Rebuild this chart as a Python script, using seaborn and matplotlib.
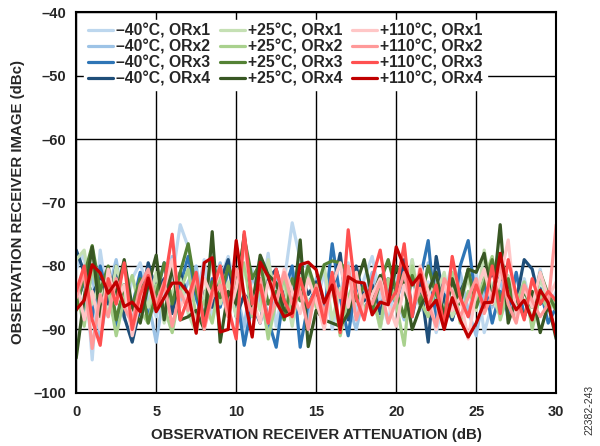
import numpy as np
import pandas as pd
import matplotlib
matplotlib.use("Agg")
import matplotlib.pyplot as plt
import seaborn as sns
from matplotlib.lines import Line2D

# Observation receiver attenuation (dB)
atten = [0.0, 0.5, 1.0, 1.5, 2.0, 2.5, 3.0, 3.5, 4.0, 4.5,
         5.0, 5.5, 6.0, 6.5, 7.0, 7.5, 8.0, 8.5, 9.0, 9.5,
         10.0, 10.5, 11.0, 11.5, 12.0, 12.5, 13.0, 13.5, 14.0, 14.5,
         15.0, 15.5, 16.0, 16.5, 17.0, 17.5, 18.0, 18.5, 19.0, 19.5,
         20.0, 20.5, 21.0, 21.5, 22.0, 22.5, 23.0, 23.5, 24.0, 24.5,
         25.0, 25.5, 26.0, 26.5, 27.0, 27.5, 28.0, 28.5, 29.0, 29.5,
         30.0]

m40_orx1 = [-80.5, -78.0, -94.8, -77.5, -86.0, -80.0, -88.5, -82.0, -79.5, -84.0,
            -88.0, -83.5, -82.0, -73.5, -77.0, -85.5, -79.0, -88.5, -82.0, -78.5,
            -84.0, -91.0, -80.5, -86.0, -78.0, -89.5, -82.5, -73.2, -79.0, -80.5,
            -86.0, -81.0, -90.0, -84.0, -79.5, -87.5, -82.0, -78.5, -85.0, -89.0,
            -81.5, -84.5, -79.0, -87.0, -82.5, -90.5, -85.0, -79.5, -83.0, -88.0,
            -81.0, -90.5, -86.0, -79.0, -84.5, -88.0, -82.0, -86.5, -80.5, -87.0,
            -84.0]
m40_orx2 = [-83.0, -87.5, -81.0, -91.5, -84.0, -79.0, -86.5, -89.0, -82.0, -85.5,
            -92.0, -84.0, -78.5, -86.0, -82.5, -80.0, -88.0, -83.5, -79.5, -87.0,
            -84.0, -89.5, -81.5, -85.0, -90.5, -82.0, -86.0, -80.5, -84.5, -88.5,
            -82.0, -87.0, -83.5, -79.5, -86.0, -90.0, -84.5, -81.0, -87.5, -83.0,
            -85.0, -88.5, -82.0, -86.5, -79.5, -84.0, -89.0, -85.5, -81.0, -87.0,
            -91.0, -84.0, -86.5, -82.0, -88.5, -85.0, -83.0, -89.5, -84.5, -87.0,
            -85.5]
m40_orx3 = [-86.0, -82.5, -88.0, -80.0, -85.0, -89.5, -83.0, -86.5, -81.0, -88.0,
            -84.5, -79.5, -87.0, -83.0, -78.5, -85.0, -89.0, -82.0, -86.5, -80.5,
            -84.0, -92.5, -86.0, -82.0, -88.5, -92.8, -84.0, -80.0, -92.8, -86.0,
            -83.5, -88.0, -76.5, -85.0, -91.0, -82.5, -87.0, -84.0, -89.5, -83.0,
            -86.0, -80.5, -88.0, -82.0, -76.0, -89.0, -84.5, -88.5, -80.0, -76.0,
            -86.0, -82.5, -89.0, -84.0, -87.5, -81.0, -88.0, -85.0, -83.5, -89.0,
            -86.5]
m40_orx4 = [-77.5, -81.0, -84.5, -82.0, -86.0, -80.0, -88.0, -92.0, -86.5, -79.5,
            -84.0, -82.0, -87.5, -81.0, -85.0, -88.0, -84.0, -86.5, -82.5, -79.0,
            -88.0, -84.5, -86.0, -89.0, -82.0, -80.5, -85.0, -87.0, -81.0, -84.5,
            -82.5, -86.0, -84.0, -78.0, -88.5, -80.0, -85.5, -83.0, -87.5, -82.0,
            -85.0, -79.0, -87.0, -82.5, -92.0, -78.5, -85.5, -88.5, -84.0, -81.5,
            -86.0, -82.0, -81.5, -81.8, -83.0, -85.5, -79.0, -80.5, -86.0, -84.5,
            -87.0]

p25_orx1 = [-79.0, -77.5, -86.0, -82.5, -88.0, -80.0, -84.5, -90.0, -83.0, -86.5,
            -81.0, -89.0, -84.0, -82.0, -87.5, -90.5, -85.0, -79.5, -86.0, -82.5,
            -88.0, -80.5, -84.0, -87.0, -79.0, -85.5, -83.0, -89.5, -81.5, -86.0,
            -84.0, -80.0, -88.5, -83.5, -86.0, -81.0, -87.5, -84.0, -90.0, -82.5,
            -85.0, -88.0, -79.0, -86.5, -83.0, -84.5, -81.0, -88.0, -85.5, -82.0,
            -87.0, -77.5, -84.5, -88.0, -81.5, -86.0, -83.0, -89.0, -82.0, -85.5,
            -87.0]
p25_orx2 = [-84.0, -89.5, -80.0, -86.0, -83.5, -91.0, -85.0, -81.5, -87.0, -89.0,
            -83.0, -86.5, -90.5, -84.0, -80.5, -88.0, -85.5, -89.0, -82.0, -86.0,
            -84.5, -79.5, -88.0, -83.0, -91.5, -85.5, -82.0, -87.5, -84.0, -80.0,
            -86.5, -89.0, -83.0, -91.0, -85.0, -81.5, -87.0, -84.5, -89.5, -82.0,
            -86.0, -92.5, -80.0, -85.5, -88.0, -83.0, -87.5, -81.0, -89.0, -84.0,
            -86.5, -82.0, -78.5, -88.5, -84.0, -86.0, -82.5, -90.0, -84.5, -87.0,
            -85.0]
p25_orx3 = [-87.0, -81.5, -76.8, -84.0, -80.0, -88.5, -83.0, -86.5, -82.0, -89.0,
            -84.5, -79.5, -86.0, -81.0, -76.5, -84.0, -88.0, -82.5, -85.0, -80.0,
            -83.5, -75.5, -82.0, -79.5, -86.0, -84.0, -88.5, -82.0, -85.5, -80.0,
            -84.0, -79.8, -79.2, -79.5, -81.0, -85.5, -83.0, -87.0, -82.5, -79.0,
            -84.0, -88.0, -81.5, -86.0, -80.0, -84.5, -87.5, -82.5, -85.0, -80.5,
            -86.5, -83.0, -79.0, -85.5, -82.0, -88.0, -84.0, -86.5, -81.0, -84.5,
            -87.0]
p25_orx4 = [-94.5, -85.0, -77.0, -88.0, -81.0, -84.5, -79.0, -86.5, -89.0, -83.0,
            -78.3, -88.5, -79.8, -88.5, -88.0, -87.0, -90.0, -74.6, -92.0, -84.0,
            -86.0, -75.0, -86.3, -78.3, -81.4, -82.7, -87.0, -87.5, -75.9, -92.7,
            -87.0, -88.5, -89.0, -89.5, -87.5, -83.0, -79.0, -85.0, -81.5, -86.0,
            -80.0, -83.0, -90.0, -86.5, -84.0, -81.0, -88.5, -82.0, -86.0, -80.5,
            -81.0, -78.0, -86.0, -73.5, -89.0, -85.0, -88.0, -84.0, -90.5, -86.0,
            -91.5]

p110_orx1 = [-82.0, -88.5, -84.0, -90.0, -80.5, -86.0, -83.0, -91.0, -85.5, -81.0,
             -87.0, -83.5, -79.0, -86.5, -84.0, -89.5, -82.0, -85.0, -80.0, -88.0,
             -83.5, -77.0, -85.0, -89.0, -82.5, -86.0, -80.5, -84.0, -87.5, -82.0,
             -85.5, -90.0, -83.0, -79.5, -86.5, -81.0, -88.0, -84.5, -82.0, -86.0,
             -89.5, -83.0, -86.5, -80.0, -84.0, -90.0, -82.5, -87.0, -85.0, -91.5,
             -84.0, -80.5, -86.0, -82.0, -75.9, -88.0, -83.5, -86.5, -81.0, -85.0,
             -82.5]
p110_orx2 = [-85.0, -81.0, -93.0, -84.5, -88.0, -82.0, -86.5, -89.0, -83.0, -80.5,
             -86.0, -82.5, -89.5, -84.0, -87.0, -81.5, -90.0, -85.0, -83.0, -88.0,
             -80.5, -84.5, -87.5, -82.0, -89.0, -85.5, -81.0, -86.0, -84.0, -90.0,
             -83.0, -87.5, -82.0, -85.0, -80.0, -88.5, -84.5, -86.0, -82.5, -89.0,
             -85.5, -81.0, -87.0, -83.5, -86.0, -89.5, -82.0, -84.0, -88.0, -85.0,
             -82.0, -87.5, -84.5, -80.0, -86.0, -89.0, -83.0, -85.5, -88.0, -86.0,
             -73.5]
p110_orx3 = [-84.0, -80.0, -88.5, -92.5, -82.0, -86.0, -79.5, -90.0, -84.5, -81.5,
             -87.0, -83.0, -75.0, -88.5, -85.0, -81.0, -89.5, -84.0, -80.0, -86.5,
             -91.5, -74.6, -86.0, -83.0, -89.0, -80.5, -85.5, -88.0, -82.0, -86.5,
             -83.5, -89.0, -81.0, -90.5, -74.3, -85.0, -88.5, -82.0, -77.5, -86.0,
             -84.0, -76.5, -88.0, -80.5, -86.5, -83.0, -89.5, -78.5, -85.0, -88.0,
             -83.0, -86.5, -80.0, -87.5, -79.0, -84.5, -88.5, -82.0, -86.0, -84.0,
             -85.5]
p110_orx4 = [-86.9, -85.4, -79.8, -81.1, -84.3, -82.5, -86.4, -85.7, -87.2, -81.9,
             -87.2, -85.0, -82.7, -82.7, -84.3, -90.6, -79.5, -78.7, -90.4, -90.0,
             -76.0, -84.8, -91.2, -79.4, -81.7, -85.7, -88.0, -87.4, -79.8, -79.4,
             -80.6, -85.8, -83.0, -90.0, -81.7, -82.5, -82.7, -87.7, -85.7, -86.1,
             -77.0, -80.1, -83.0, -81.4, -86.9, -85.4, -90.0, -85.0, -88.5, -91.2,
             -89.0, -85.8, -85.7, -78.0, -84.6, -86.9, -85.4, -88.5, -83.8, -85.8,
             -91.0]

series_labels = ["\u201340°C, ORx1", "\u201340°C, ORx2", "\u201340°C, ORx3", "\u201340°C, ORx4",
                 "+25°C, ORx1", "+25°C, ORx2", "+25°C, ORx3", "+25°C, ORx4",
                 "+110°C, ORx1", "+110°C, ORx2", "+110°C, ORx3", "+110°C, ORx4"]
series_values = [m40_orx1, m40_orx2, m40_orx3, m40_orx4,
                 p25_orx1, p25_orx2, p25_orx3, p25_orx4,
                 p110_orx1, p110_orx2, p110_orx3, p110_orx4]
colors = ["#bdd7ee", "#9dc3e6", "#2e75b6", "#1f4e79",
          "#c5e0b4", "#a9d18e", "#548235", "#385723",
          "#ffc7c7", "#ff9999", "#ff5050", "#c00000"]

y_ticks = [-100, -90, -80, -70, -60, -50, -40]
x_ticks = [0, 5, 10, 15, 20, 25, 30]

frames = []
for lab, vals in zip(series_labels, series_values):
    frames.append(pd.DataFrame({"atten": atten, "image": vals, "series": lab}))
df = pd.concat(frames, ignore_index=True)

sns.set_style("white")
plt.rcParams["font.family"] = ["Liberation Sans", "DejaVu Sans"]

fig = plt.figure(figsize=(6.0, 4.46), dpi=100)
ax = fig.add_axes([0.127, 0.119, 0.8, 0.854])

palette = dict(zip(series_labels, colors))
sns.lineplot(data=df, x="atten", y="image", hue="series", hue_order=series_labels,
             palette=palette, linewidth=2.3, ax=ax, legend=False, sort=False)

ax.set_xlim(0, 30)
ax.set_ylim(-100, -40)
ax.set_xticks(x_ticks)
ax.set_yticks(y_ticks)
ax.set_xticklabels([str(t) for t in x_ticks], fontsize=10.5, fontweight="bold")
ax.set_yticklabels([str(t).replace("-", "\u2013") for t in y_ticks], fontsize=10.5, fontweight="bold")
ax.tick_params(axis="x", length=0, pad=9)
ax.tick_params(axis="y", length=0, pad=7)
ax.grid(True, color="black", linewidth=1.0)
ax.set_axisbelow(True)
for s in ax.spines.values():
    s.set_color("black")
    s.set_linewidth(1.5)

ax.set_xlabel("OBSERVATION RECEIVER ATTENUATION (dB)", fontsize=10.8, fontweight="bold", labelpad=6)
ax.set_ylabel("OBSERVATION RECEIVER IMAGE (dBc)", fontsize=10.8, fontweight="bold", labelpad=6)

handles = [Line2D([0], [0], color=c, linewidth=2.3) for c in colors]
leg = ax.legend(handles, series_labels, ncol=3, loc="upper left",
                bbox_to_anchor=(0.0, 1.0), frameon=True, fancybox=False,
                framealpha=1.0, edgecolor="white", facecolor="white",
                prop={"weight": "bold", "size": 11.3},
                handlelength=1.6, handletextpad=0.2, columnspacing=0.6,
                labelspacing=0.05, borderpad=0.25, borderaxespad=0.5)
leg.set_zorder(5)

fig.text(0.982, 0.08, "22382-243", rotation=90, fontsize=7.5, color="#333333",
         ha="center", va="center")

fig.savefig("out.png", dpi=100)
